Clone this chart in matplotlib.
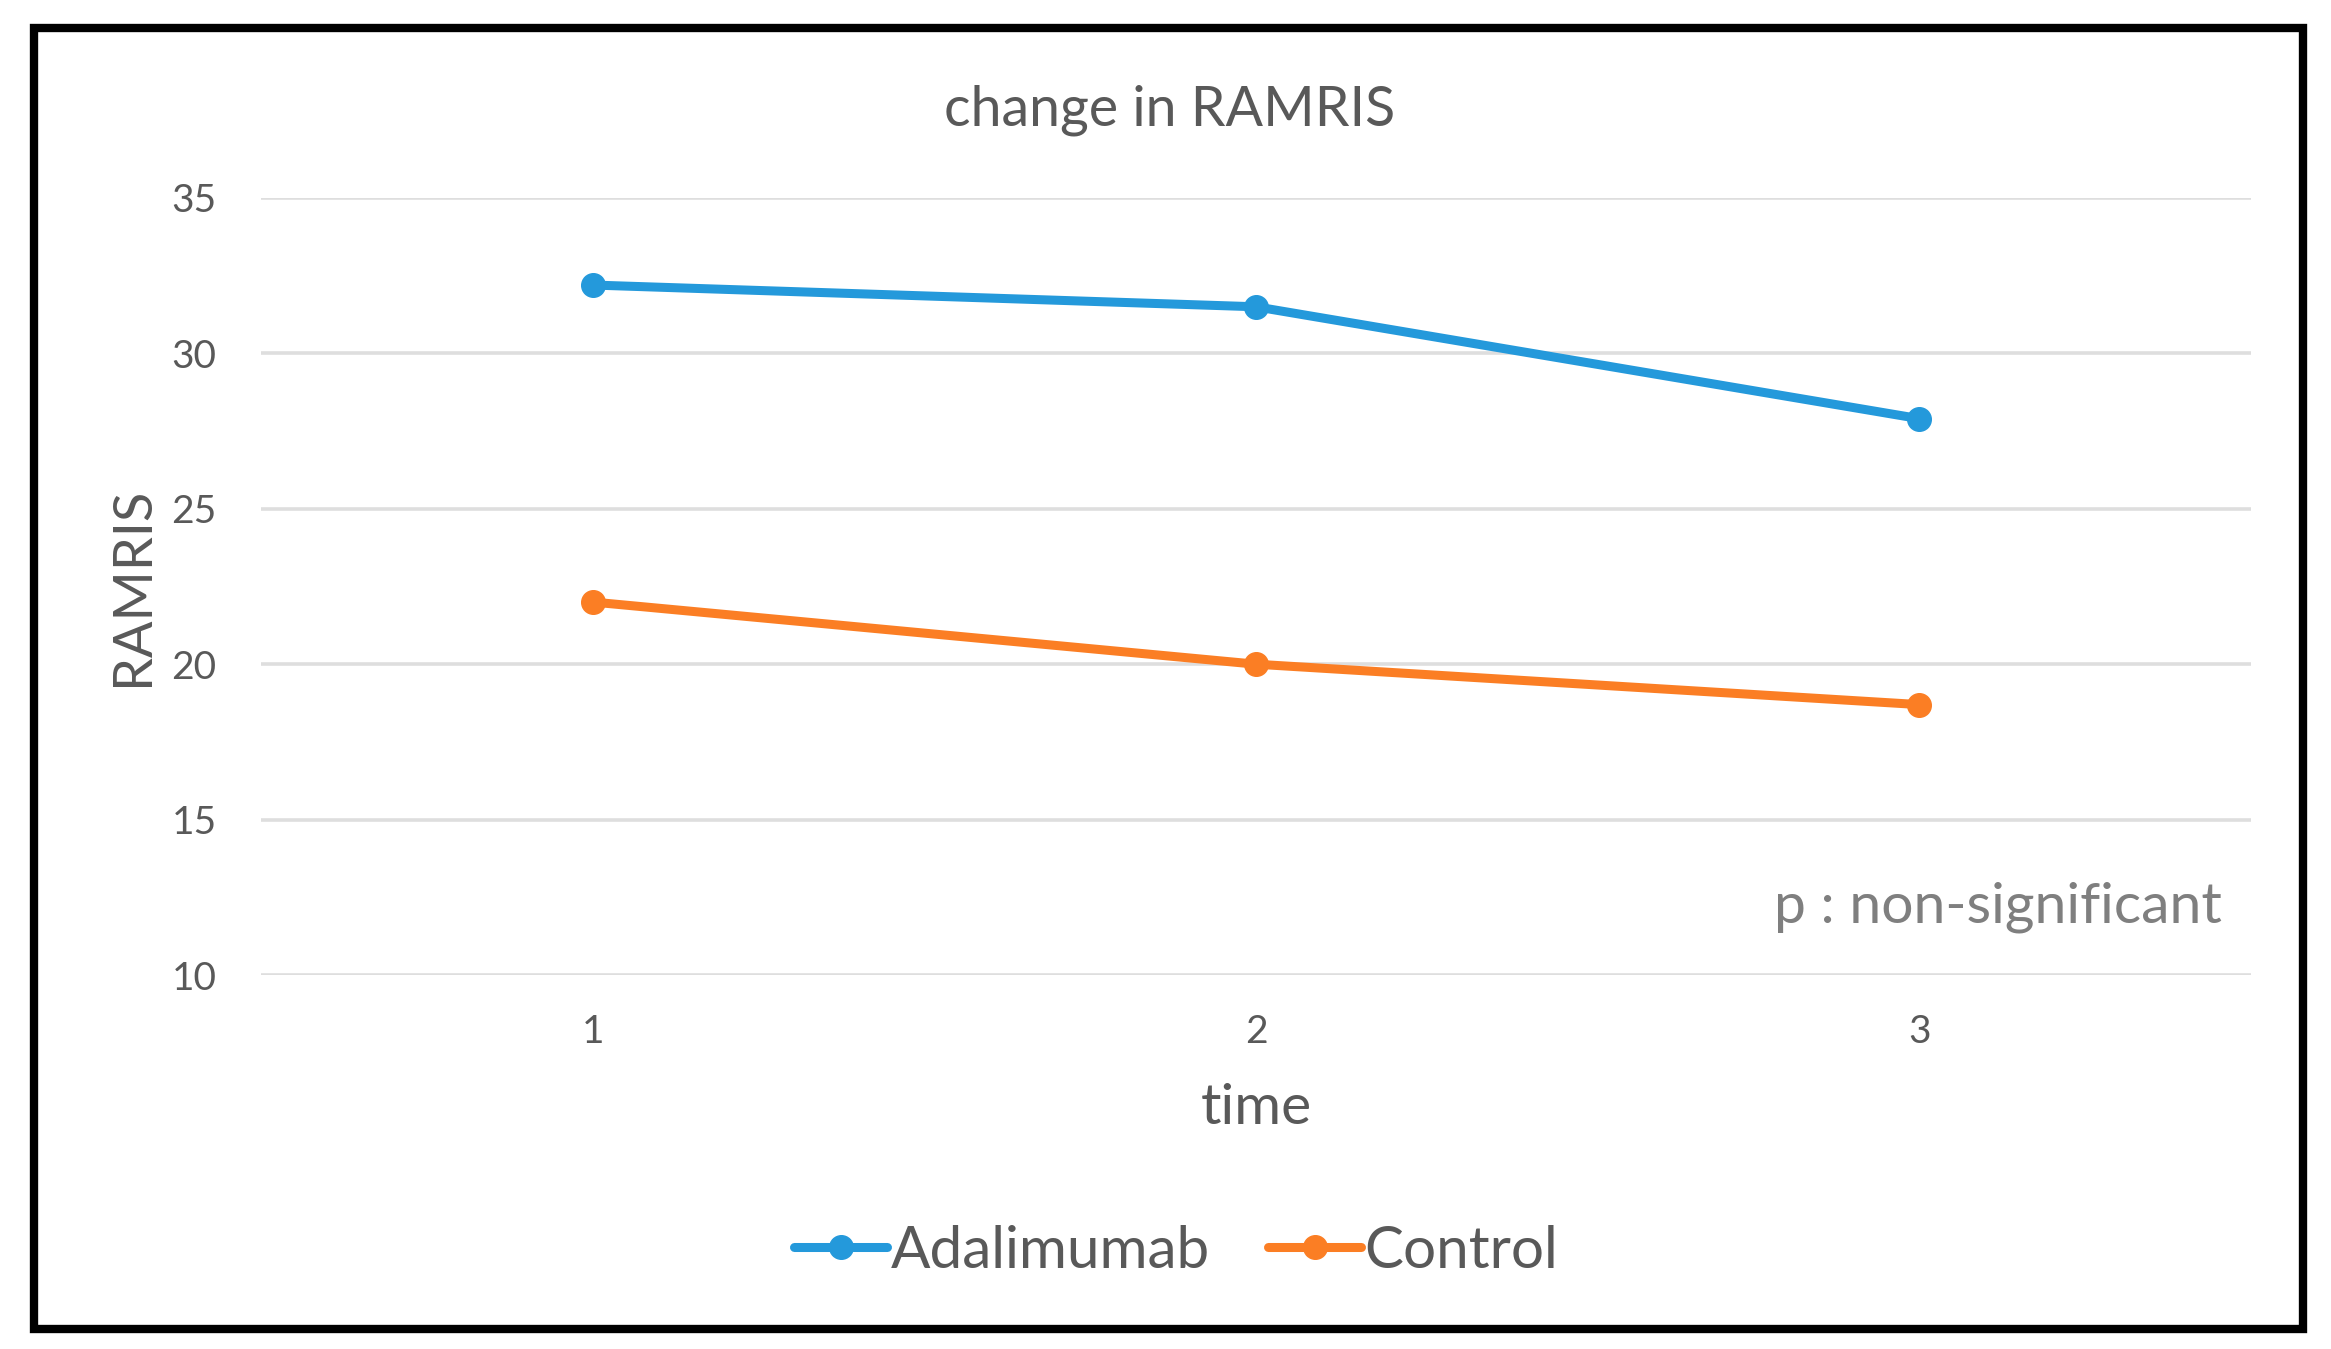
import matplotlib
matplotlib.use("Agg")
import matplotlib.pyplot as plt
from matplotlib.patches import Rectangle

plt.rcParams['font.family'] = ['Lato', 'DejaVu Sans']

time_points = [1, 2, 3]
tick_labels = ["1", "2", "3"]
adalimumab = [32.2, 31.5, 27.9]
control = [22.0, 20.0, 18.7]
y_ticks = [10, 15, 20, 25, 30, 35]

blue = "#2499DB"
orange = "#FB7E24"
txt = "#595959"

W, H = 2331, 1349
fig = plt.figure(figsize=(W / 100, H / 100), dpi=100)
ax = fig.add_axes([261 / W, 1 - 975 / H, (2251 - 261) / W, (975 - 198) / H])

ax.plot(time_points, adalimumab, color=blue, lw=6.5, marker='o', ms=17,
        label="Adalimumab", solid_capstyle='round', zorder=3)
ax.plot(time_points, control, color=orange, lw=6.5, marker='o', ms=17,
        label="Control", solid_capstyle='round', zorder=3)

ax.set_xlim(0.5, 3.5)
ax.set_ylim(10, 35)
ax.set_yticks(y_ticks)
ax.set_yticklabels([str(v) for v in y_ticks])
ax.set_xticks(time_points)
ax.set_xticklabels(tick_labels)
ax.tick_params(axis='both', length=0, labelsize=28, colors=txt)
ax.tick_params(axis='y', pad=32)
ax.tick_params(axis='x', pad=28)
ax.grid(axis='y', color='#DEDEDE', lw=2.6)
ax.set_axisbelow(True)
for s in ax.spines.values():
    s.set_visible(False)

ax.set_ylabel("RAMRIS", fontsize=39, color=txt, labelpad=10)
ax.set_xlabel("time", fontsize=41, color=txt, labelpad=24)

fig.text(1170 / W, 1 - 110 / H, "change in RAMRIS", fontsize=40, color=txt,
         ha='center', va='center')
fig.text(2222 / W, 1 - 907 / H, "p : non-significant", fontsize=41,
         color='#7F7F7F', ha='right', va='center')

fig.legend(loc='center', bbox_to_anchor=(1176 / W, 1 - 1251 / H), ncol=2,
           frameon=False, fontsize=42, handlelength=1.6, handletextpad=0.05,
           columnspacing=1.0, labelcolor=txt)

fig.patches.append(Rectangle((34 / W, 1 - 1329 / H), (2303 - 34) / W,
                             (1329 - 28) / H, transform=fig.transFigure,
                             fill=False, edgecolor='black', lw=6))

fig.savefig("out.png", dpi=100)
